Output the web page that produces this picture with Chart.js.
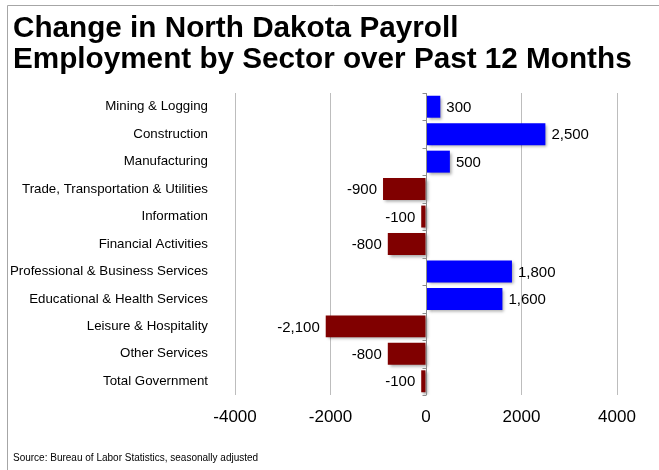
<!DOCTYPE html>
<html>
<head>
<meta charset="utf-8">
<script src="https://cdn.jsdelivr.net/npm/chart.js@4"></script>
<style>
  html, body { margin: 0; padding: 0; background: #fff; }
  #wrap { position: relative; width: 659px; height: 470px; overflow: hidden; }
  #chart { position: absolute; left: 0; top: 0; }
  #title {
    position: absolute; left: 13px; top: 11px;
    font-family: "Liberation Sans", Arial, sans-serif; font-weight: bold;
    font-size: 29.7px; line-height: 31px; color: #000; white-space: nowrap;
  }
  #source {
    position: absolute; left: 13px; top: 452px;
    font-family: "Liberation Sans", Arial, sans-serif;
    font-size: 10px; color: #000; white-space: nowrap;
  }
</style>
</head>
<body>
<div id="wrap">
  <canvas id="chart" width="659" height="470"></canvas>
  <div id="title">Change in North Dakota Payroll<br>Employment by Sector over Past 12 Months</div>
  <div id="source">Source: Bureau of Labor Statistics, seasonally adjusted</div>
</div>
<script>
  const categories = [
    'Mining & Logging',
    'Construction',
    'Manufacturing',
    'Trade, Transportation & Utilities',
    'Information',
    'Financial Activities',
    'Professional & Business Services',
    'Educational & Health Services',
    'Leisure & Hospitality',
    'Other Services',
    'Total Government'
  ];
  const changes = [300, 2500, 500, -900, -100, -800, 1800, 1600, -2100, -800, -100];
  const xMin = -4000, xMax = 4000, xStep = 2000;

  const font = '"Liberation Sans", Arial, sans-serif';

  // frame lines (top and left) like the original slide
  const framePlugin = {
    id: 'frame',
    beforeDraw(chart) {
      const ctx = chart.ctx;
      ctx.save();
      ctx.fillStyle = '#fff';
      ctx.fillRect(0, 0, chart.width, chart.height);
      ctx.strokeStyle = '#a6a6a6';
      ctx.lineWidth = 1;
      ctx.beginPath();
      ctx.moveTo(7.5, chart.height);
      ctx.lineTo(7.5, 5.5);
      ctx.lineTo(chart.width, 5.5);
      ctx.stroke();
      ctx.restore();
    }
  };

  // drop shadow under bars
  const shadowPlugin = {
    id: 'shadow',
    beforeDatasetsDraw(chart) {
      const ctx = chart.ctx;
      ctx.save();
      ctx.shadowColor = 'rgba(0,0,0,0.35)';
      ctx.shadowOffsetX = 2;
      ctx.shadowOffsetY = 2;
      ctx.shadowBlur = 3;
    },
    afterDatasetsDraw(chart) {
      chart.ctx.restore();
    }
  };

  // zero axis with small tick marks, plus value labels
  const labelPlugin = {
    id: 'labels',
    afterDatasetsDraw(chart) {
      const ctx = chart.ctx;
      const x = chart.scales.x;
      const x0 = Math.round(x.getPixelForValue(0)) + 0.5;
      const area = chart.chartArea;
      ctx.save();
      ctx.strokeStyle = '#8c8c8c';
      ctx.lineWidth = 1;
      ctx.beginPath();
      ctx.moveTo(x0, area.top);
      ctx.lineTo(x0, area.bottom);
      const step = (area.bottom - area.top) / categories.length;
      for (let i = 0; i <= categories.length; i++) {
        const yy = Math.round(area.top + i * step) + 0.5;
        ctx.moveTo(x0 - 4, yy);
        ctx.lineTo(x0, yy);
      }
      ctx.stroke();

      ctx.fillStyle = '#000';
      ctx.font = '15px ' + font;
      ctx.textBaseline = 'middle';
      chart.getDatasetMeta(0).data.forEach((bar, i) => {
        const v = changes[i];
        const txt = v.toLocaleString('en-US');
        if (v >= 0) {
          ctx.textAlign = 'left';
          ctx.fillText(txt, bar.x + 6, bar.y + 1);
        } else {
          ctx.textAlign = 'right';
          ctx.fillText(txt, bar.x - 6, bar.y + 1);
        }
      });
      ctx.restore();
    }
  };

  new Chart(document.getElementById('chart'), {
    type: 'bar',
    data: {
      labels: categories,
      datasets: [{
        data: changes,
        backgroundColor: changes.map(v => v >= 0 ? '#0000ff' : '#800000'),
        borderWidth: 0,
        barPercentage: 0.8,
        categoryPercentage: 1.0
      }]
    },
    options: {
      indexAxis: 'y',
      responsive: false,
      animation: false,
      devicePixelRatio: 1,
      layout: { padding: { top: 93, right: 42, left: 0, bottom: 0 } },
      plugins: {
        legend: { display: false },
        tooltip: { enabled: false },
        title: { display: false }
      },
      scales: {
        x: {
          min: xMin, max: xMax,
          ticks: {
            stepSize: xStep, color: '#000', font: { family: font, size: 17 }, padding: 12,
            callback: v => String(v)
          },
          grid: {
            drawTicks: false,
            color: ctx => ctx.tick && ctx.tick.value === 0 ? 'rgba(0,0,0,0)' : '#bdbdbd'
          },
          border: { display: false },
          afterFit(scale) { scale.height = 75; }
        },
        y: {
          ticks: { color: '#000', font: { family: font, size: 13.3 }, padding: 27 },
          grid: { display: false, drawTicks: false },
          border: { display: false },
          afterFit(scale) { scale.width = 235; }
        }
      }
    },
    plugins: [framePlugin, shadowPlugin, labelPlugin]
  });
</script>
</body>
</html>
